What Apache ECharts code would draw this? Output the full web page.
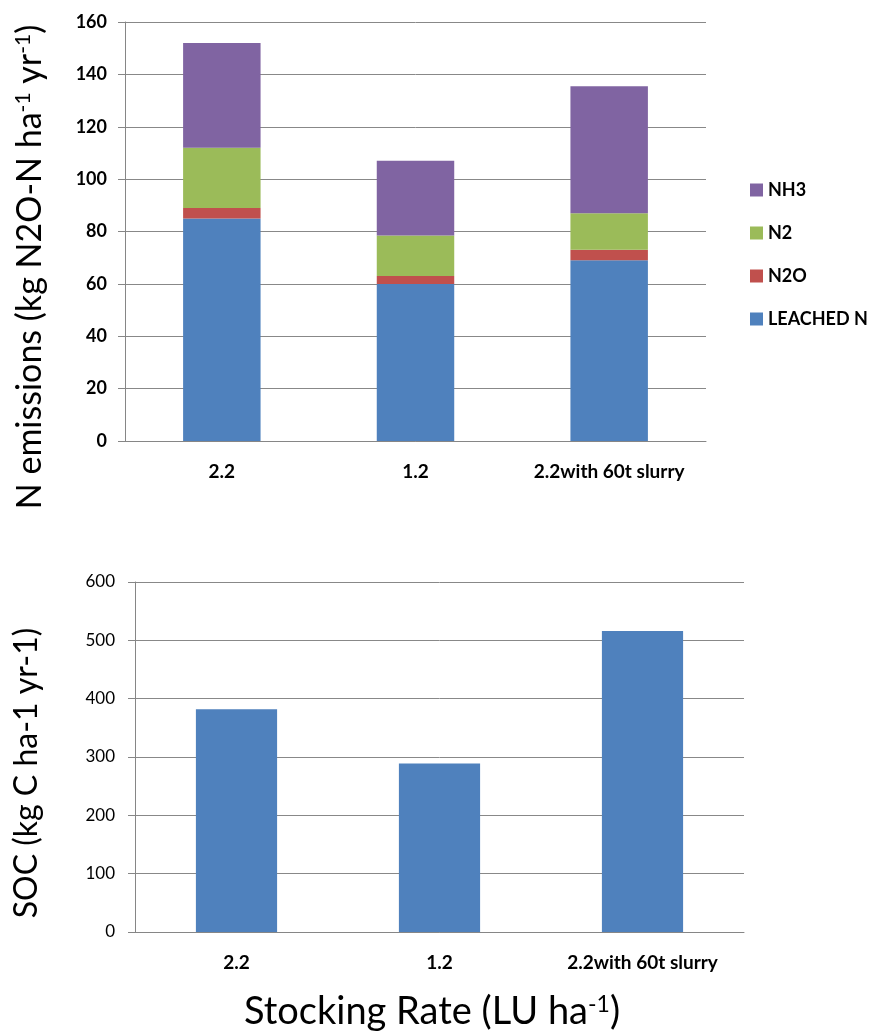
<!DOCTYPE html>
<html><head><meta charset="utf-8">
<script src="https://cdn.jsdelivr.net/npm/echarts@6/dist/echarts.min.js"></script>
<style>html,body{margin:0;padding:0;background:#fff}#c{width:871px;height:1031px}</style>
</head><body><div id="c"></div>
<script>
const categories = ['2.2', '1.2', '2.2with 60t slurry'];
const leachedN = [85, 60, 69];
const n2o = [4, 3, 4];
const n2 = [23, 15.5, 14];
const nh3 = [40, 28.5, 48.5];
const soc = [382, 289, 516];
const topTicks = {min: 0, max: 160, interval: 20};
const bottomTicks = {min: 0, max: 600, interval: 100};

const FF = 'Lato';
const axisGray = '#868686';
const chart = echarts.init(document.getElementById('c'), null, {renderer: 'canvas'});
const lbl = (size, margin, weight) => ({fontFamily: FF, fontWeight: weight, fontSize: size, color: '#000', margin: margin, interval: 0, hideOverlap: false});
const supRich = (base, sup) => ({
  b: {fontFamily: FF, fontSize: base, fill: '#000', color: '#000', lineHeight: base},
  s: {fontFamily: FF, fontSize: sup, fill: '#000', color: '#000', verticalAlign: 'top', lineHeight: base}
});
const bar = (name, data, color) => ({
  name: name, type: 'bar', stack: 'n', data: data, barWidth: '40%',
  xAxisIndex: 0, yAxisIndex: 0, itemStyle: {color: color}
});
const titleText = (text, x, y, rot, base, sup) => ({
  type: 'text', x: x, y: y, rotation: rot,
  style: {text: text, rich: supRich(base, sup), align: 'center', verticalAlign: 'middle',
          fontFamily: FF, fontSize: base, fill: '#000'}
});
chart.setOption({
  animation: false,
  grid: [
    {left: 125, right: 165, top: 22, bottom: 590},
    {left: 135, right: 127, top: 582, bottom: 99}
  ],
  legend: {
    orient: 'vertical', left: 745, top: 176, itemWidth: 13, itemHeight: 13, itemGap: 25, icon: 'rect',
    data: ['NH3', 'N2', 'N2O', 'LEACHED N'],
    textStyle: {fontFamily: FF, fontWeight: 'bold', fontSize: 18, color: '#000'}
  },
  graphic: [
    titleText('{b|N emissions (kg N2O-N ha}{s|-1}{b| yr}{s|-1}{b|)}', 30, 267, Math.PI / 2, 34, 21),
    titleText('{b|SOC (kg C ha-1 yr-1)}', 27, 773, Math.PI / 2, 32, 20),
    titleText('{b|Stocking Rate (LU ha}{s|-1}{b|)}', 432, 1012, 0, 38, 23)
  ],
  xAxis: [
    {type: 'category', gridIndex: 0, data: categories,
     axisLine: {lineStyle: {color: axisGray}}, axisTick: {length: 7, lineStyle: {color: axisGray}},
     axisLabel: lbl(19, 21, 'bold')},
    {type: 'category', gridIndex: 1, data: categories,
     axisLine: {lineStyle: {color: axisGray}}, axisTick: {length: 7, lineStyle: {color: axisGray}},
     axisLabel: lbl(19, 21, 'bold')}
  ],
  yAxis: [
    {type: 'value', gridIndex: 0, min: topTicks.min, max: topTicks.max, interval: topTicks.interval,
     axisLine: {show: true, lineStyle: {color: axisGray}}, axisTick: {show: true, length: 7, lineStyle: {color: axisGray}},
     splitLine: {lineStyle: {color: '#888888'}}, axisLabel: lbl(18, 18, 'bold')},
    {type: 'value', gridIndex: 1, min: bottomTicks.min, max: bottomTicks.max, interval: bottomTicks.interval,
     axisLine: {show: true, lineStyle: {color: axisGray}}, axisTick: {show: true, length: 7, lineStyle: {color: axisGray}},
     splitLine: {lineStyle: {color: '#888888'}}, axisLabel: lbl(17, 20, 'normal')}
  ],
  series: [
    bar('LEACHED N', leachedN, '#4F81BD'),
    bar('N2O', n2o, '#C0504D'),
    bar('N2', n2, '#9BBB59'),
    bar('NH3', nh3, '#8064A2'),
    {name: 'SOC', type: 'bar', data: soc, barWidth: '40%', xAxisIndex: 1, yAxisIndex: 1, itemStyle: {color: '#4F81BD'}}
  ]
});
</script></body></html>
